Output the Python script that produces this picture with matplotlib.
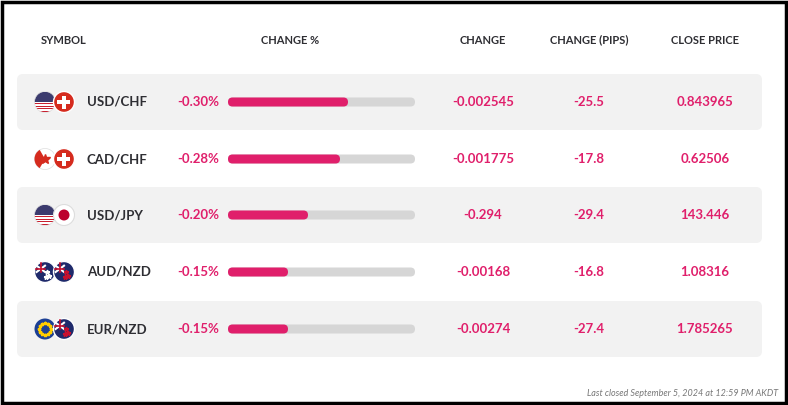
import matplotlib
matplotlib.use("Agg")
import numpy as np
import matplotlib.pyplot as plt
from matplotlib.patches import FancyBboxPatch, Circle, Rectangle, Wedge

symbols = ["USD/CHF", "CAD/CHF", "USD/JPY", "AUD/NZD", "EUR/NZD"]
flags = [("us", "ch"), ("ca", "ch"), ("us", "jp"), ("au", "nz"), ("eu", "nz")]
change_pct = [-0.30, -0.28, -0.20, -0.15, -0.15]
change = ["-0.002545", "-0.001775", "-0.294", "-0.00168", "-0.00274"]
change_pips = [-25.5, -17.8, -29.4, -16.8, -27.4]
close_price = ["0.843965", "0.62506", "143.446", "1.08316", "1.785265"]
headers = ["SYMBOL", "CHANGE %", "CHANGE", "CHANGE (PIPS)", "CLOSE PRICE"]

PINK = "#e01f6b"
DARK = "#2e2e33"

fig = plt.figure(figsize=(7.88, 4.05), dpi=100)
ax = fig.add_axes([0, 0, 1, 1])
ax.set_xlim(0, 788)
ax.set_ylim(405, 0)
ax.axis("off")

ax.add_patch(Rectangle((2, 2), 784, 401, fill=False, ec="black", lw=2.5))

hx = [64, 290, 483, 589, 705]
for x, h in zip(hx, headers):
    ax.text(x, 40, h, ha="center", va="center", fontsize=8, fontweight="bold",
            color=DARK, family="Lato")


def flag(kind, cx, cy, r=10.5):
    clip = Circle((cx, cy), r, transform=ax.transData)
    if kind == "us":
        ax.add_patch(Circle((cx, cy), r, fc="white", ec="none", zorder=3))
        for i in range(4):
            ax.add_patch(Rectangle((cx - r, cy + 1 + i * 2.5), 2 * r, 1.3,
                                   fc="#c8202f", ec="none", zorder=4, clip_path=clip))
        ax.add_patch(Rectangle((cx - r, cy - r), 2 * r, r, fc="#3c3b6e", ec="none",
                               zorder=4, clip_path=clip))
        ax.add_patch(Circle((cx, cy), r, fill=False, ec="#dddddd", lw=0.5, zorder=5))
    elif kind == "ch":
        ax.add_patch(Circle((cx, cy), r, fc="#d52b1e", ec="white", lw=1, zorder=6))
        ax.add_patch(Rectangle((cx - 2, cy - 6.5), 4, 13, fc="white", ec="none", zorder=7))
        ax.add_patch(Rectangle((cx - 6.5, cy - 2), 13, 4, fc="white", ec="none", zorder=7))
    elif kind == "ca":
        ax.add_patch(Circle((cx, cy), r, fc="white", ec="#dddddd", lw=0.5, zorder=3))
        ax.add_patch(Wedge((cx, cy), r, 120, 240, fc="#d52b1e", ec="none", zorder=4))
        ax.plot(cx, cy, marker="*", ms=7, color="#d52b1e", zorder=5)
    elif kind == "jp":
        ax.add_patch(Circle((cx, cy), r, fc="white", ec="#dddddd", lw=0.8, zorder=6))
        ax.add_patch(Circle((cx, cy), 5.5, fc="#bc002d", ec="none", zorder=7))
    elif kind in ("au", "nz"):
        z = 3 if kind == "au" else 6
        ax.add_patch(Circle((cx, cy), r, fc="#1f2a6b", ec="white", lw=1, zorder=z))
        ax.plot([cx - r * 0.8, cx], [cy - r * 0.6, cy], color="white", lw=1.5, zorder=z + 1)
        ax.plot([cx - r * 0.8, cx], [cy, cy - r * 0.6], color="white", lw=1.5, zorder=z + 1)
        ax.plot([cx - r * 0.9, cx], [cy - r * 0.3, cy - r * 0.3], color="#c8102e", lw=1.2, zorder=z + 2)
        ax.plot([cx - r * 0.4, cx - r * 0.4], [cy - r * 0.9, cy], color="#c8102e", lw=1.2, zorder=z + 2)
        for dx, dy in [(4, 1), (6, 5), (3, 6)]:
            ax.plot(cx + dx - 2, cy + dy - 1, marker="*", ms=3.5,
                    color="white" if kind == "au" else "#c8102e", zorder=z + 2)
    elif kind == "eu":
        ax.add_patch(Circle((cx, cy), r, fc="#1c3f94", ec="none", zorder=3))
        for a in np.linspace(0, 2 * np.pi, 12, endpoint=False):
            ax.plot(cx + 6 * np.cos(a), cy + 6 * np.sin(a), marker="*", ms=2.5,
                    color="#ffcc00", zorder=4)


row_y = [102, 159, 215, 272, 329]
for i, y in enumerate(row_y):
    if i % 2 == 0:
        ax.add_patch(FancyBboxPatch((17, y - 28), 745, 56,
                                    boxstyle="round,pad=0,rounding_size=6",
                                    fc="#f2f2f2", ec="none", zorder=1))
    f1, f2 = flags[i]
    flag(f1, 45, y)
    flag(f2, 64, y)
    ax.text(87, y, symbols[i], ha="left", va="center", fontsize=9.5,
            fontweight="bold", color=DARK, family="Lato", zorder=8)
    ax.text(219, y, f"{change_pct[i]:.2f}%", ha="right", va="center", fontsize=9.5,
            fontweight="bold", color=PINK, family="Lato", zorder=8)
    ax.add_patch(FancyBboxPatch((228, y - 4.5), 187, 9,
                                boxstyle="round,pad=0,rounding_size=4.5",
                                fc="#d6d6d6", ec="none", zorder=3))
    ax.add_patch(FancyBboxPatch((228, y - 4.5), abs(change_pct[i]) * 400, 9,
                                boxstyle="round,pad=0,rounding_size=4.5",
                                fc=PINK, ec="none", zorder=4))
    ax.text(483, y, change[i], ha="center", va="center", fontsize=9.5,
            fontweight="bold", color=PINK, family="Lato", zorder=8)
    ax.text(589, y, f"{change_pips[i]:.1f}", ha="center", va="center", fontsize=9.5,
            fontweight="bold", color=PINK, family="Lato", zorder=8)
    ax.text(705, y, close_price[i], ha="center", va="center", fontsize=9.5,
            fontweight="bold", color=PINK, family="Lato", zorder=8)

ax.text(778, 393, "Last closed September 5, 2024 at 12:59 PM AKDT", ha="right",
        va="center", fontsize=6.5, style="italic", color="#777777", family="Lato")

fig.savefig("out.png", dpi=100)
